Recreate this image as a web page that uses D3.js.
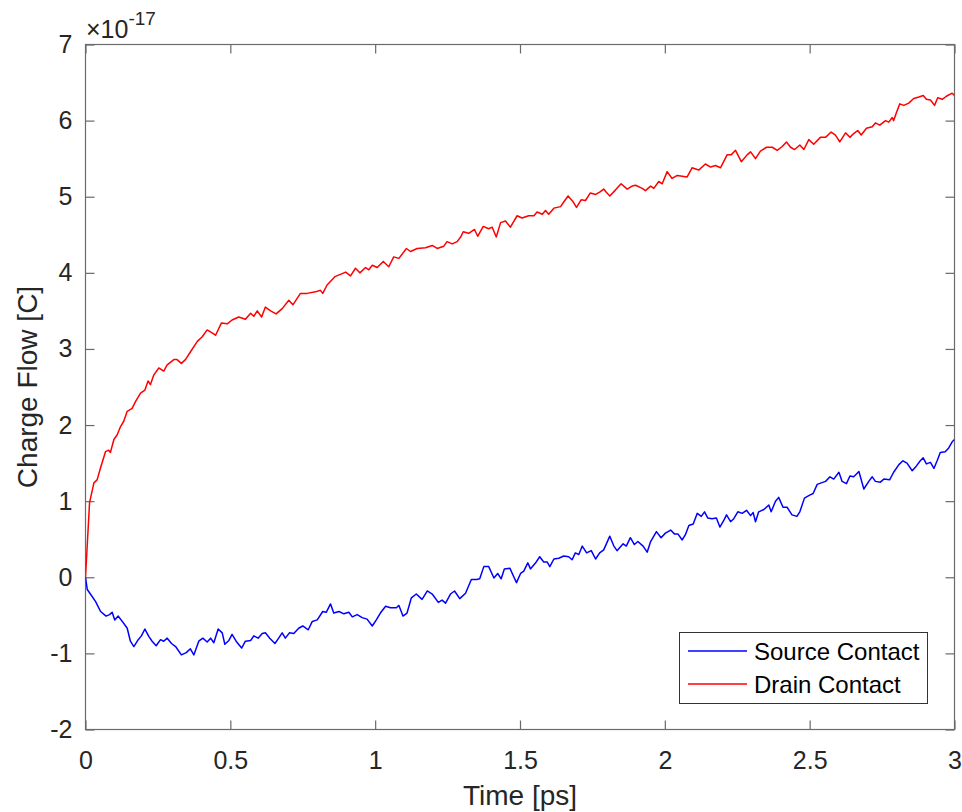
<!DOCTYPE html>
<html>
<head>
<meta charset="utf-8">
<script src="https://cdn.jsdelivr.net/npm/d3@7"></script>
<style>
  html, body { margin: 0; padding: 0; background: #ffffff; }
  text { font-family: "Liberation Sans", Arial, Helvetica, sans-serif; }
</style>
</head>
<body>
<div id="chart"></div>
<script>
// values in units of 1e-17 C, time in ps
var exponent = -17;

var xTicks = [0, 0.5, 1, 1.5, 2, 2.5, 3];
var yTicks = [-2, -1, 0, 1, 2, 3, 4, 5, 6, 7];

var seriesNames = ['Source Contact', 'Drain Contact'];
var seriesColors = ['#0000ff', '#ff0000'];

var sourcePoints = [
  [0, 0], [0.006, -0.16], [0.017, -0.22], [0.035, -0.32], [0.052, -0.45], [0.071, -0.51], [0.083, -0.49],
  [0.092, -0.46], [0.101, -0.56], [0.113, -0.51], [0.129, -0.59], [0.144, -0.67], [0.155, -0.84], [0.167, -0.91],
  [0.182, -0.82], [0.193, -0.77], [0.205, -0.68], [0.219, -0.78], [0.230, -0.84], [0.244, -0.90], [0.259, -0.82],
  [0.270, -0.84], [0.282, -0.80], [0.297, -0.87], [0.311, -0.91], [0.331, -1.02], [0.348, -0.99], [0.362, -0.94],
  [0.374, -1.02], [0.391, -0.84], [0.405, -0.80], [0.420, -0.85], [0.432, -0.80], [0.443, -0.86], [0.458, -0.68],
  [0.472, -0.73], [0.481, -0.88], [0.495, -0.83], [0.506, -0.75], [0.520, -0.84], [0.539, -0.93], [0.552, -0.84],
  [0.570, -0.83], [0.581, -0.77], [0.596, -0.80], [0.610, -0.74], [0.621, -0.73], [0.636, -0.80], [0.654, -0.87],
  [0.665, -0.81], [0.679, -0.73], [0.690, -0.80], [0.704, -0.73], [0.719, -0.74], [0.736, -0.67], [0.750, -0.64],
  [0.769, -0.69], [0.783, -0.58], [0.800, -0.56], [0.819, -0.45], [0.831, -0.46], [0.846, -0.35], [0.857, -0.47],
  [0.875, -0.45], [0.892, -0.48], [0.909, -0.46], [0.921, -0.52], [0.938, -0.49], [0.955, -0.53], [0.972, -0.55],
  [0.990, -0.64], [1.004, -0.56], [1.018, -0.47], [1.036, -0.38], [1.053, -0.40], [1.073, -0.40], [1.082, -0.37],
  [1.096, -0.51], [1.110, -0.47], [1.125, -0.27], [1.142, -0.22], [1.162, -0.29], [1.180, -0.18], [1.197, -0.22],
  [1.218, -0.33], [1.231, -0.30], [1.243, -0.34], [1.260, -0.22], [1.274, -0.18], [1.292, -0.28], [1.312, -0.21],
  [1.332, -0.03], [1.350, -0.03], [1.361, -0.02], [1.375, 0.14], [1.392, 0.14], [1.410, -0.01], [1.423, 0.05],
  [1.435, -0.02], [1.446, 0.11], [1.465, 0.12], [1.478, 0.01], [1.488, -0.07], [1.502, 0.05], [1.513, 0.08],
  [1.527, 0.19], [1.536, 0.11], [1.554, 0.19], [1.568, 0.27], [1.582, 0.20], [1.594, 0.20], [1.603, 0.14],
  [1.617, 0.24], [1.634, 0.25], [1.651, 0.28], [1.668, 0.27], [1.680, 0.23], [1.691, 0.32], [1.703, 0.30],
  [1.715, 0.41], [1.730, 0.32], [1.746, 0.35], [1.761, 0.24], [1.775, 0.32], [1.789, 0.36], [1.810, 0.54],
  [1.824, 0.41], [1.835, 0.35], [1.856, 0.44], [1.867, 0.41], [1.881, 0.52], [1.895, 0.43], [1.907, 0.47],
  [1.925, 0.41], [1.939, 0.33], [1.951, 0.47], [1.971, 0.60], [1.987, 0.52], [2.002, 0.58], [2.020, 0.62],
  [2.033, 0.57], [2.045, 0.57], [2.060, 0.49], [2.071, 0.56], [2.083, 0.68], [2.098, 0.70], [2.112, 0.84],
  [2.126, 0.80], [2.137, 0.86], [2.148, 0.78], [2.163, 0.77], [2.178, 0.78], [2.190, 0.66], [2.204, 0.75],
  [2.213, 0.82], [2.227, 0.73], [2.238, 0.77], [2.252, 0.86], [2.267, 0.84], [2.282, 0.88], [2.296, 0.81],
  [2.305, 0.85], [2.313, 0.73], [2.324, 0.86], [2.342, 0.89], [2.359, 0.95], [2.367, 0.86], [2.382, 1.00],
  [2.393, 1.05], [2.408, 0.92], [2.422, 0.92], [2.439, 0.82], [2.456, 0.80], [2.466, 0.86], [2.482, 1.04],
  [2.500, 1.08], [2.512, 1.10], [2.526, 1.22], [2.540, 1.24], [2.555, 1.26], [2.570, 1.32], [2.583, 1.29],
  [2.601, 1.38], [2.612, 1.26], [2.627, 1.23], [2.639, 1.33], [2.652, 1.32], [2.670, 1.39], [2.687, 1.16],
  [2.704, 1.26], [2.716, 1.32], [2.727, 1.26], [2.744, 1.25], [2.756, 1.29], [2.776, 1.28], [2.790, 1.38],
  [2.808, 1.48], [2.822, 1.53], [2.836, 1.50], [2.854, 1.40], [2.868, 1.46], [2.882, 1.53], [2.892, 1.57],
  [2.903, 1.49], [2.917, 1.51], [2.929, 1.43], [2.940, 1.53], [2.951, 1.64], [2.968, 1.65], [2.980, 1.70],
  [2.992, 1.78], [3.0, 1.81]
];

var drainPoints = [
  [0, 0], [0.014, 0.98], [0.029, 1.24], [0.040, 1.28], [0.052, 1.44], [0.069, 1.65], [0.080, 1.67],
  [0.086, 1.64], [0.098, 1.81], [0.109, 1.87], [0.121, 1.98], [0.132, 2.05], [0.144, 2.18], [0.161, 2.22],
  [0.173, 2.31], [0.190, 2.42], [0.205, 2.46], [0.216, 2.58], [0.224, 2.53], [0.236, 2.66], [0.253, 2.75],
  [0.270, 2.71], [0.282, 2.79], [0.305, 2.86], [0.316, 2.86], [0.331, 2.81], [0.345, 2.86], [0.362, 2.96],
  [0.386, 3.10], [0.403, 3.16], [0.420, 3.25], [0.437, 3.21], [0.449, 3.18], [0.469, 3.34], [0.489, 3.33],
  [0.506, 3.38], [0.529, 3.42], [0.552, 3.39], [0.570, 3.47], [0.581, 3.43], [0.593, 3.50], [0.608, 3.42],
  [0.621, 3.55], [0.639, 3.50], [0.658, 3.46], [0.679, 3.53], [0.702, 3.64], [0.716, 3.58], [0.742, 3.73],
  [0.765, 3.73], [0.794, 3.75], [0.811, 3.77], [0.819, 3.73], [0.834, 3.84], [0.861, 3.95], [0.880, 3.98],
  [0.898, 4.01], [0.915, 3.96], [0.932, 4.06], [0.947, 4.00], [0.967, 4.07], [0.978, 4.04], [0.990, 4.10],
  [1.007, 4.07], [1.028, 4.15], [1.047, 4.08], [1.064, 4.21], [1.082, 4.19], [1.108, 4.32], [1.122, 4.28],
  [1.145, 4.32], [1.174, 4.33], [1.197, 4.36], [1.214, 4.32], [1.237, 4.35], [1.248, 4.41], [1.266, 4.38],
  [1.283, 4.41], [1.295, 4.47], [1.304, 4.54], [1.323, 4.52], [1.343, 4.57], [1.354, 4.48], [1.373, 4.61],
  [1.392, 4.58], [1.404, 4.60], [1.418, 4.47], [1.433, 4.66], [1.450, 4.68], [1.467, 4.60], [1.490, 4.75],
  [1.507, 4.72], [1.530, 4.75], [1.548, 4.75], [1.559, 4.80], [1.577, 4.77], [1.588, 4.82], [1.599, 4.77],
  [1.617, 4.85], [1.640, 4.87], [1.651, 4.93], [1.666, 5.01], [1.684, 4.93], [1.695, 4.86], [1.711, 4.96],
  [1.726, 4.95], [1.743, 5.05], [1.761, 5.03], [1.775, 5.06], [1.789, 5.10], [1.798, 5.06], [1.810, 5.01],
  [1.830, 5.09], [1.849, 5.17], [1.870, 5.10], [1.887, 5.14], [1.899, 5.15], [1.922, 5.11], [1.933, 5.08],
  [1.951, 5.14], [1.962, 5.11], [1.979, 5.20], [1.991, 5.17], [2.008, 5.33], [2.025, 5.24], [2.043, 5.28],
  [2.060, 5.27], [2.077, 5.26], [2.094, 5.38], [2.117, 5.35], [2.140, 5.43], [2.158, 5.39], [2.175, 5.41],
  [2.192, 5.38], [2.215, 5.55], [2.229, 5.55], [2.244, 5.61], [2.264, 5.46], [2.284, 5.55], [2.296, 5.59],
  [2.313, 5.50], [2.330, 5.60], [2.351, 5.65], [2.371, 5.65], [2.388, 5.61], [2.405, 5.66], [2.420, 5.72],
  [2.434, 5.65], [2.448, 5.62], [2.466, 5.68], [2.480, 5.62], [2.497, 5.75], [2.514, 5.69], [2.537, 5.78],
  [2.555, 5.78], [2.574, 5.85], [2.589, 5.81], [2.604, 5.72], [2.624, 5.84], [2.639, 5.78], [2.652, 5.83],
  [2.666, 5.87], [2.678, 5.81], [2.696, 5.90], [2.716, 5.92], [2.727, 5.97], [2.742, 5.94], [2.762, 6.00],
  [2.773, 5.98], [2.785, 6.04], [2.790, 6.00], [2.800, 6.11], [2.811, 6.22], [2.825, 6.20], [2.842, 6.23],
  [2.859, 6.29], [2.877, 6.31], [2.892, 6.33], [2.903, 6.28], [2.917, 6.27], [2.931, 6.20], [2.942, 6.30],
  [2.958, 6.28], [2.972, 6.32], [2.992, 6.36], [3.0, 6.33]
];

// Visual config
var width = 962;
var height = 812;
var plotLeft = 85.5;
var plotRight = 954.5;
var plotTop = 44.5;
var plotBottom = 729.5;
var tickLength = 9;
var axisColour = '#6a6a6a';
var textColour = '#262626';
var tickFont = 25;
var labelFont = 28;
var legendFont = 24;

var svg = d3.select('#chart')
  .append('svg')
  .attr('width', width)
  .attr('height', height)

var x = d3.scaleLinear()
  .domain([0, 3])
  .range([plotLeft, plotRight]);

var y = d3.scaleLinear()
  .domain([-2, 7])
  .range([plotBottom, plotTop]);

function styleAxis(g) {
  g.select('.domain').remove();
  g.selectAll('.tick line').attr('stroke', axisColour).attr('stroke-width', 1.2);
  g.selectAll('.tick text')
    .attr('fill', textColour)
    .attr('font-size', tickFont)
    .attr('font-family', '"Liberation Sans", Arial, sans-serif');
}

var tickFormat = function (d) { return String(d); };

// bottom axis, ticks pointing inward
svg.append('g')
  .attr('transform', 'translate(0,' + plotBottom + ')')
  .call(d3.axisBottom(x).tickValues(xTicks).tickFormat(tickFormat).tickSizeInner(-tickLength).tickSizeOuter(0).tickPadding(22))
  .call(styleAxis);

// top axis, ticks only
svg.append('g')
  .attr('transform', 'translate(0,' + plotTop + ')')
  .call(d3.axisTop(x).tickValues(xTicks).tickFormat('').tickSizeInner(-tickLength).tickSizeOuter(0))
  .call(styleAxis);

// left axis
svg.append('g')
  .attr('transform', 'translate(' + plotLeft + ',0)')
  .call(d3.axisLeft(y).tickValues(yTicks).tickFormat(tickFormat).tickSizeInner(-tickLength).tickSizeOuter(0).tickPadding(13))
  .call(styleAxis);

// right axis, ticks only
svg.append('g')
  .attr('transform', 'translate(' + plotRight + ',0)')
  .call(d3.axisRight(y).tickValues(yTicks).tickFormat('').tickSizeInner(-tickLength).tickSizeOuter(0))
  .call(styleAxis);

// box around the plot
svg.append('rect')
  .attr('x', plotLeft)
  .attr('y', plotTop)
  .attr('width', plotRight - plotLeft)
  .attr('height', plotBottom - plotTop)
  .attr('fill', 'none')
  .attr('stroke', axisColour)
  .attr('stroke-width', 1.2)

var line = d3.line()
  .x(function (d) { return x(d[0]); })
  .y(function (d) { return y(d[1]); });

svg.append('defs').append('clipPath')
  .attr('id', 'plot-clip')
  .append('rect')
  .attr('x', plotLeft)
  .attr('y', plotTop)
  .attr('width', plotRight - plotLeft)
  .attr('height', plotBottom - plotTop)

var lines = svg.append('g').attr('clip-path', 'url(#plot-clip)');

lines.selectAll('path')
  .data([sourcePoints, drainPoints])
  .enter()
  .append('path')
  .attr('d', line)
  .attr('fill', 'none')
  .attr('stroke', function (d, i) { return seriesColors[i]; })
  .attr('stroke-width', 1.5)
  .attr('stroke-linejoin', 'round')

// exponent label above the y axis
var expLabel = svg.append('text')
  .attr('x', 86)
  .attr('y', 38)
  .attr('fill', textColour)
  .attr('font-size', tickFont)
expLabel.append('tspan').text('\u00d710');
expLabel.append('tspan')
  .attr('dy', -13)
  .attr('font-size', 19)
  .text(String(exponent));

// axis labels
svg.append('text')
  .attr('x', (plotLeft + plotRight) / 2)
  .attr('y', 805)
  .attr('text-anchor', 'middle')
  .attr('fill', textColour)
  .attr('font-size', labelFont)
  .text('Time [ps]')

svg.append('text')
  .attr('transform', 'translate(37,' + (plotTop + plotBottom) / 2 + ') rotate(-90)')
  .attr('text-anchor', 'middle')
  .attr('fill', textColour)
  .attr('font-size', labelFont)
  .text('Charge Flow [C]')

// legend
var legend = svg.append('g');

legend.append('rect')
  .attr('x', 679.5)
  .attr('y', 632.5)
  .attr('width', 248)
  .attr('height', 71)
  .attr('fill', '#ffffff')
  .attr('stroke', '#333333')
  .attr('stroke-width', 1)

var legendRows = legend.selectAll('.legend-row')
  .data(seriesNames)
  .enter()
  .append('g')
  .attr('class', 'legend-row')
  .attr('transform', function (d, i) { return 'translate(0,' + (651 + i * 33) + ')'; })

legendRows.append('line')
  .attr('x1', 688)
  .attr('x2', 747)
  .attr('y1', 0)
  .attr('y2', 0)
  .attr('stroke', function (d, i) { return seriesColors[i]; })
  .attr('stroke-width', 1.5)

legendRows.append('text')
  .attr('x', 754)
  .attr('y', 9)
  .attr('fill', '#000000')
  .attr('font-size', legendFont)
  .text(function (d) { return d; })
</script>
</body>
</html>
